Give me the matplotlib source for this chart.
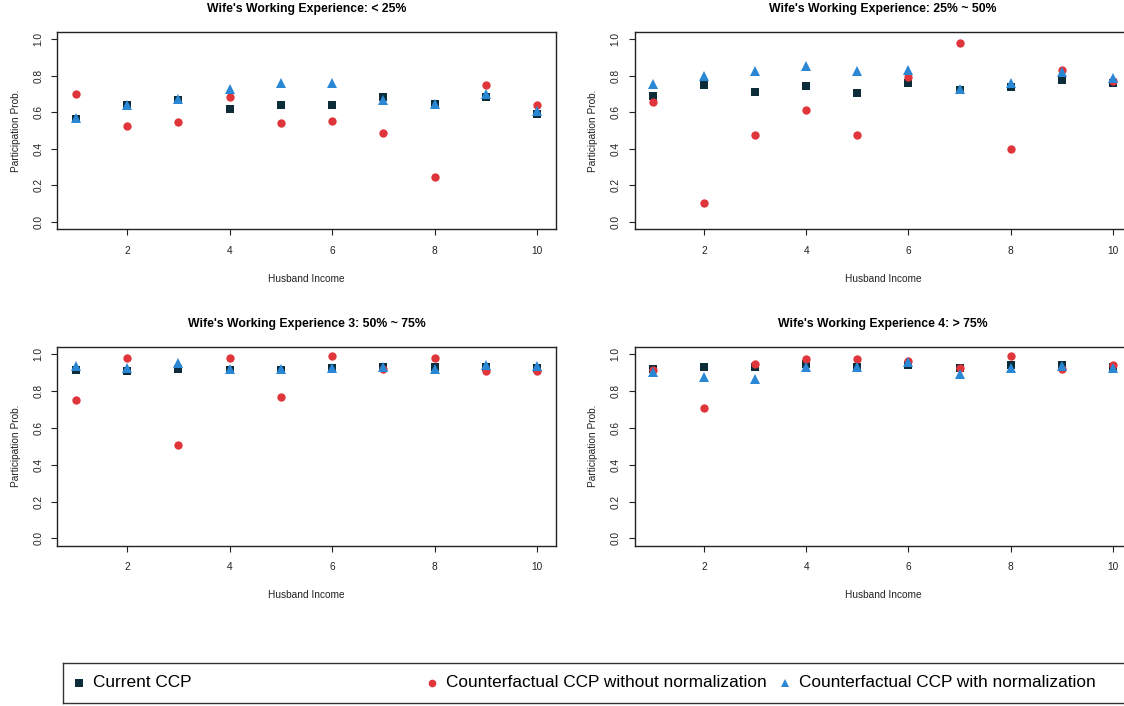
import numpy as np
import matplotlib
matplotlib.use('Agg')
import matplotlib.pyplot as plt

plt.rcParams['font.family'] = ['Liberation Sans', 'DejaVu Sans']

# --- data ---
income = np.arange(1, 11)

titles = ["Wife's Working Experience: < 25%",
          "Wife's Working Experience: 25% ~ 50%",
          "Wife's Working Experience 3: 50% ~ 75%",
          "Wife's Working Experience 4: > 75%"]

current_ccp = [
    [0.565, 0.641, 0.667, 0.616, 0.641, 0.641, 0.681, 0.643, 0.683, 0.592],
    [0.687, 0.746, 0.708, 0.741, 0.703, 0.759, 0.721, 0.737, 0.774, 0.757],
    [0.915, 0.909, 0.918, 0.915, 0.915, 0.924, 0.933, 0.933, 0.933, 0.924],
    [0.920, 0.931, 0.929, 0.946, 0.933, 0.942, 0.928, 0.942, 0.942, 0.933],
]
cf_no_norm = [
    [0.700, 0.527, 0.549, 0.685, 0.543, 0.554, 0.484, 0.245, 0.750, 0.638],
    [0.658, 0.105, 0.473, 0.614, 0.478, 0.793, 0.978, 0.397, 0.828, 0.770],
    [0.750, 0.978, 0.505, 0.978, 0.766, 0.991, 0.918, 0.978, 0.909, 0.909],
    [0.915, 0.707, 0.947, 0.975, 0.975, 0.966, 0.924, 0.991, 0.918, 0.942],
]
cf_norm = [
    [0.570, 0.640, 0.670, 0.725, 0.761, 0.761, 0.667, 0.643, 0.700, 0.607],
    [0.755, 0.800, 0.824, 0.851, 0.824, 0.832, 0.728, 0.761, 0.819, 0.786],
    [0.938, 0.928, 0.951, 0.920, 0.920, 0.924, 0.929, 0.918, 0.942, 0.937],
    [0.902, 0.879, 0.864, 0.929, 0.929, 0.960, 0.893, 0.924, 0.938, 0.924],
]

series_labels = ['Current CCP', 'Counterfactual CCP without normalization',
                 'Counterfactual CCP with normalization']
series_markers = ['s', 'o', '^']
series_sizes = [5.6, 6.0, 7.0]
series_colors = ['#0b2c38', '#e0353a', '#2a87d4']

W, H = 1124, 706
fig = plt.figure(figsize=(W / 100, H / 100), dpi=100)

# axes boxes in pixels: (left, top, width, height)
boxes = [(57.3, 31.7, 498.2, 197.6), (634.5, 31.7, 496.7, 197.6),
         (57.3, 346.9, 498.2, 198.8), (634.5, 346.9, 496.7, 198.8)]

all_series = [current_ccp, cf_no_norm, cf_norm]

for k, (l, t, w, h) in enumerate(boxes):
    ax = fig.add_axes([l / W, 1 - (t + h) / H, w / W, h / H])
    for vals, mk, ms, col in zip(all_series, series_markers, series_sizes, series_colors):
        ax.plot(income, vals[k], linestyle='none', marker=mk, markersize=ms,
                color=col, markeredgewidth=0)
    ax.set_xlim(0.64, 10.36)
    ax.set_ylim(-0.04, 1.04)
    ax.set_xticks([2, 4, 6, 8, 10])
    ax.set_yticks([0.0, 0.2, 0.4, 0.6, 0.8, 1.0])
    ax.set_yticklabels(['0.0', '0.2', '0.4', '0.6', '0.8', '1.0'], rotation=90, va='center')
    ax.tick_params(labelsize=7.3, length=4, width=0.8, colors='#222222')
    ax.tick_params(axis='x', pad=8)
    ax.tick_params(axis='y', pad=6)
    for sp in ax.spines.values():
        sp.set_linewidth(1.0)
        sp.set_color('#222222')
    ax.set_title(titles[k], fontsize=8.8, fontweight='bold', pad=14)
    ax.set_xlabel('Husband Income', fontsize=7.3, labelpad=13, color='#222222')
    ax.set_ylabel('Participation Prob.', fontsize=7.3, labelpad=9, color='#222222')

# legend strip at the bottom, three equal-width slots like R's horiz legend
lx0, ly0, lx1, ly1 = 62.7, 662.7, 1140.0, 702.7
lax = fig.add_axes([lx0 / W, 1 - ly1 / H, (lx1 - lx0) / W, (ly1 - ly0) / H])
lax.set_xlim(0, lx1 - lx0)
lax.set_ylim(0, 1)
lax.set_xticks([])
lax.set_yticks([])
for sp in lax.spines.values():
    sp.set_linewidth(1.0)
    sp.set_color('#333333')
slot = 353
for i, (lab, mk, col) in enumerate(zip(series_labels, series_markers, series_colors)):
    lax.plot([16 + i * slot], [0.5], linestyle='none', marker=mk, markersize=5.5,
             color=col, markeredgewidth=0)
    lax.text(30 + i * slot, 0.5, lab, fontsize=12.4, va='center', ha='left')

fig.savefig('out.png', dpi=100)
